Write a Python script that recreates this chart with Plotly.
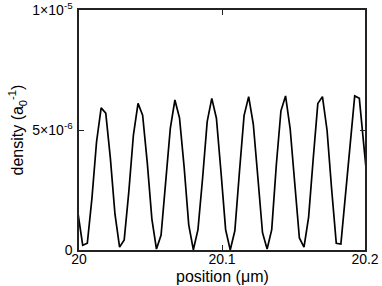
import plotly.graph_objects as go

position_um = [
    19.99937, 20.00259, 20.00581, 20.00904, 20.01226, 20.01549, 20.01871, 20.02193,
    20.02516, 20.02838, 20.03161, 20.03483, 20.03805, 20.04128, 20.04450, 20.04773,
    20.05095, 20.05417, 20.05740, 20.06062, 20.06385, 20.06707, 20.07029, 20.07352,
    20.07674, 20.07997, 20.08319, 20.08641, 20.08964, 20.09286, 20.09609, 20.09931,
    20.10253, 20.10576, 20.10898, 20.11221, 20.11543, 20.11865, 20.12188, 20.12510,
    20.12833, 20.13155, 20.13477, 20.13800, 20.14122, 20.14445, 20.14767, 20.15089,
    20.15412, 20.15734, 20.16057, 20.16379, 20.16701, 20.17024, 20.17346, 20.17669,
    20.17991, 20.18313, 20.18636, 20.18958, 20.19281, 20.19603, 20.19925, 20.20248,
]

# density in units of 1e-6 a0^-1
density_e6 = [
    1.5, 0.2, 0.28, 2.15, 4.50, 5.92, 5.70, 3.83,
    1.49, 0.12, 0.42, 2.42, 4.79, 6.11, 5.62, 3.65,
    1.30, 0.04, 0.62, 2.71, 5.07, 6.25, 5.50, 3.46,
    1.05, 0.01, 0.85, 2.98, 5.35, 6.32, 5.49, 3.24,
    0.85, 0.0, 0.8, 3.26, 5.6, 6.39, 5.25, 3.01,
    0.72, 0.04, 0.85, 3.55, 5.8, 6.42, 5.05, 2.77,
    0.5, 0.12, 1.37, 3.80, 6.1, 6.39, 4.99, 2.52,
    0.28, 0.25, 2.2, 4.4, 6.42, 6.32, 4.4, 2.3,
]

density = [v * 1e-6 for v in density_e6]

x_ticks = [20.0, 20.1, 20.2]
x_ticktext = ["20", "20.1", "20.2"]
y_ticks = [0, 5e-6, 1e-5]
y_ticktext = ["0", "5×10<sup>-6</sup>", "1×10<sup>-5</sup>"]
x_title = "position (μm)"
y_title = "density (a<sub>0</sub><sup>-1</sup>)"

font_family = "Liberation Sans, Arial, sans-serif"

fig = go.Figure()
fig.add_trace(go.Scatter(
    x=position_um, y=density, mode="lines",
    line=dict(color="black", width=1.7),
    hoverinfo="skip", showlegend=False,
))

axis_common = dict(
    showline=True, linecolor="#222", linewidth=1.6, mirror="ticks",
    ticks="inside", ticklen=5, tickwidth=1, tickcolor="#222",
    showgrid=False, zeroline=False, automargin=False,
    tickfont=dict(family=font_family, size=14, color="black"),
)

fig.update_layout(
    width=382, height=286,
    margin=dict(l=79, r=17, t=10, b=36),
    paper_bgcolor="white", plot_bgcolor="white",
    font=dict(family=font_family, size=14, color="black"),
    xaxis=dict(range=[20.0, 20.2], tickvals=x_ticks, ticktext=x_ticktext,
               ticklabelstandoff=-4, **axis_common),
    yaxis=dict(range=[0, 1e-5], tickvals=y_ticks, ticktext=y_ticktext,
               ticklabelstandoff=2, **axis_common),
    annotations=[
        dict(text=x_title, xref="paper", yref="paper", x=0.5, y=-0.109,
             xanchor="center", yanchor="middle", showarrow=False,
             font=dict(family=font_family, size=16)),
        dict(text=y_title, xref="paper", yref="paper", x=-0.215, y=0.5,
             xanchor="center", yanchor="middle", showarrow=False, textangle=-90,
             font=dict(family=font_family, size=16)),
    ],
)

fig.write_html(
    "out.html",
    config={"displayModeBar": False, "staticPlot": True},
    post_script="document.body.style.margin='0';document.body.style.padding='0';",
)
